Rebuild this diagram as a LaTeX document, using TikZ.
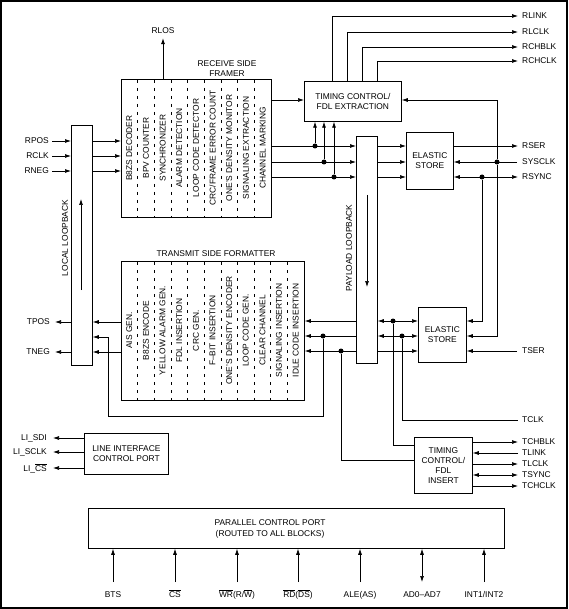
\documentclass[tikz,border=0pt]{standalone}
\usepackage{fontspec}
\setmainfont{Liberation Sans}
\usetikzlibrary{arrows.meta}
\newcommand{\myovl}[1]{\ensuremath{\overline{\mbox{#1}}}}
\begin{document}
\begin{tikzpicture}[x=1pt,y=-1pt,
  every node/.style={font=\fontsize{8.4}{9.8}\selectfont, inner sep=0pt},
  box/.style={draw, line width=0.75pt, anchor=north west, align=center},
  ln/.style={line width=0.7pt},
  ar/.style={ln,-{Latex[length=6pt,width=4pt]}},
  ar2/.style={ln,{Latex[length=6pt,width=4pt]}-{Latex[length=6pt,width=4pt]}},
  dot/.style={circle, fill, minimum size=5pt, inner sep=0pt},
  lbl/.style={anchor=west},
  lbr/.style={anchor=east},
  col/.style={rotate=90},
  dsh/.style={line width=0.5pt, dash pattern=on 3pt off 5pt},
]
\useasboundingbox (0,0) rectangle (568,609);
\draw[line width=1.4pt] (1,1) rectangle (567,608);

% ---------- boxes ----------
\node[box, minimum width=150pt, minimum height=138pt] (fr) at (121,79) {};
\node[box, minimum width=97pt, minimum height=40pt] (tce) at (304,81) {};
\node at (tce.center) [align=center] {TIMING CONTROL/\\FDL EXTRACTION};
\node[box, minimum width=47pt, minimum height=57pt] (es1) at (406,132) {};
\node at (es1.center) [align=center] {ELASTIC\\STORE};
\node[box, minimum width=21pt, minimum height=227pt] (pl) at (356,136) {};
\node[box, minimum width=21pt, minimum height=240pt] (ll) at (71,125) {};
\node[box, minimum width=183pt, minimum height=139pt] (tf) at (121,261) {};
\node[box, minimum width=48pt, minimum height=55pt] (es2) at (418,307) {};
\node at (es2.center) [align=center] {ELASTIC\\STORE};
\node[box, minimum width=58pt, minimum height=56pt] (tci) at (414,437) {};
\node at (tci.center) [align=center, font=\fontsize{8.4}{10}\selectfont] {TIMING\\CONTROL/\\FDL\\INSERT};
\node[box, minimum width=84pt, minimum height=41pt] (lic) at (84,433) {};
\node at (lic.center) [align=center] {LINE INTERFACE\\CONTROL PORT};
\node[box, minimum width=416pt, minimum height=40pt] (pcp) at (88,508) {};
\node (pcpt) at (270,529) [align=center, font=\fontsize{8.4}{10.5}\selectfont] {PARALLEL CONTROL PORT\\(ROUTED TO ALL BLOCKS)};

% ---------- titles ----------
\node (rsf) at (227,68.5) [align=center] {RECEIVE SIDE\\FRAMER};
\node (tsf) at (216,254) {TRANSMIT SIDE FORMATTER};
\node[col] (llt) at (65,238) {LOCAL LOOPBACK};
\node[col] (plt) at (349,248) {PAYLOAD LOOPBACK};
\draw[ar] (81,290) -- (81,199);
\draw[ar] (367,195) -- (367,287);

% ---------- framer columns ----------
\foreach \k in {1,...,8} \draw[dsh] ({121+16.667*\k},80) -- ({121+16.667*\k},217);
\foreach \t [count=\i from 0] in {B8ZS DECODER, BPV COUNTER, SYNCHRONIZER, ALARM DETECTION, LOOP CODE DETECTOR, CRC/FRAME ERROR COUNT, ONE'S DENSITY MONITOR, SIGNALING EXTRACTION, CHANNEL MARKING}
  \node[col] (fc\i) at ({121+16.667*(\i+0.5)},148) {\t};

% ---------- transmit columns ----------
\foreach \k in {1,...,10} \draw[dsh] ({121+16.636*\k},262) -- ({121+16.636*\k},400);
\foreach \t [count=\i from 0] in {AIS GEN., B8ZS ENCODE, YELLOW ALARM GEN., FDL INSERTION, CRC GEN., F--BIT INSERTION, ONE'S DENSITY ENCODER, LOOP CODE GEN., CLEAR CHANNEL, SIGNALING INSERTION, IDLE CODE INSERTION}
  \node[col] (tc\i) at ({121+16.636*(\i+0.5)},330.5) {\t};

% ---------- labels ----------
\node[lbr] (rpos) at (49,141) {RPOS};
\node[lbr] (rclk) at (49,156) {RCLK};
\node[lbr] (rneg) at (49,171) {RNEG};
\node[lbr] (tpos) at (50,322) {TPOS};
\node[lbr] (tneg) at (50,352) {TNEG};
\node (rlos) at (163,31) {RLOS};
\node[lbl] (rlink) at (522,16) {RLINK};
\node[lbl] (rlclk) at (522,32) {RLCLK};
\node[lbl] (rchblk) at (522,47) {RCHBLK};
\node[lbl] (rchclk) at (522,61) {RCHCLK};
\node[lbl] (rser) at (522,146) {RSER};
\node[lbl] (sysclk) at (522,162) {SYSCLK};
\node[lbl] (rsync) at (522,177) {RSYNC};
\node[lbl] (tser) at (522,351) {TSER};
\node[lbl] (tclk) at (522,420) {TCLK};
\node[lbl] (tchblk) at (522,442) {TCHBLK};
\node[lbl] (tlink) at (522,453) {TLINK};
\node[lbl] (tlclk) at (522,464) {TLCLK};
\node[lbl] (tsync) at (522,475) {TSYNC};
\node[lbl] (tchclk) at (522,486) {TCHCLK};
\node[lbr] (lisdi) at (47,438) {LI\_SDI};
\node[lbr] (lisclk) at (47,452) {LI\_SCLK};
\node[lbr] (lics) at (47,468) {LI\_\myovl{CS}};

\foreach \n/\x/\t in {bts/113/{BTS}, cs/175/{\myovl{CS}}, wr/237/{\myovl{WR}(R/\myovl{W})}, rd/298/{\myovl{RD}(\myovl{DS})}, ale/360/{ALE(AS)}, ad/422/{AD0--AD7}, int/484/{INT1/INT2}}
  {\node[anchor=base] (\n) at (\x,597) {\t};
   \coordinate (\n s) at (\x,582);}

% ---------- receive path ----------
\draw[ar, shorten <=3pt] (rpos.east) -- (rpos.east -| ll.west);
\draw[ar, shorten <=3pt] (rclk.east) -- (rclk.east -| ll.west);
\draw[ar, shorten <=3pt] (rneg.east) -- (rneg.east -| ll.west);
\draw[ar] (ll.east |- 0,141) -- (fr.west |- 0,141);
\draw[ar] (ll.east |- 0,156) -- (fr.west |- 0,156);
\draw[ar] (ll.east |- 0,171) -- (fr.west |- 0,171);
\draw[ar, shorten >=4pt] (fr.north -| 163,0) -- (rlos.south);
\draw[ar] (fr.east |- 0,100) -- (tce.west |- 0,100);

\draw[ar, shorten >=4pt] (tce.north -| 332,0) |- (rlink.west);
\draw[ar, shorten >=4pt] (tce.north -| 347,0) |- (rlclk.west);
\draw[ar, shorten >=4pt] (tce.north -| 362,0) |- (rchblk.west);
\draw[ar, shorten >=4pt] (tce.north -| 377,0) |- (rchclk.west);

\draw[ar] (fr.east |- 0,146) -- (pl.west |- 0,146);
\draw[ar] (fr.east |- 0,162) -- (pl.west |- 0,162);
\draw[ar] (fr.east |- 0,177) -- (pl.west |- 0,177);
\node[dot] (j1) at (315,146) {};
\node[dot] (j2) at (324,162) {};
\node[dot] (j3) at (334,177) {};
\draw[ar] (j1) -- (tce.south -| j1);
\draw[ar] (j2) -- (tce.south -| j2);
\draw[ar] (j3) -- (tce.south -| j3);

\draw[ar] (pl.east |- 0,146) -- (es1.west |- 0,146);
\draw[ar] (pl.east |- 0,162) -- (es1.west |- 0,162);
\draw[ar] (pl.east |- 0,177) -- (es1.west |- 0,177);

\draw[ar, shorten >=4pt] (es1.east |- 0,146) -- (rser.west);
\draw[ar, shorten <=5pt] (sysclk.west) -- (es1.east |- 0,162);
\draw[ar2, shorten >=4pt] (es1.east |- 0,177) -- (rsync.west);
\node[dot] (jsys) at (497,162) {};
\node[dot] (jrs) at (482,177) {};
\draw[ar] (jsys) |- (tce.east |- 0,100);
\draw[ar] (jsys) |- (es2.east |- 0,336);
\draw[ar] (jrs) |- (es2.east |- 0,321);
\draw[ar, shorten <=5pt] (tser.west) -- (es2.east |- 0,351);

% ---------- transmit path ----------
\draw[ar2] (pl.east |- 0,321) -- (es2.west |- 0,321);
\draw[ar2] (pl.east |- 0,336) -- (es2.west |- 0,336);
\draw[ar] (pl.east |- 0,351) -- (es2.west |- 0,351);
\node[dot] (jt1) at (393,321) {};
\node[dot] (jt2) at (402,336) {};
\draw[ln] (jt1) |- (tci.west |- 0,445);
\draw[ln, shorten >=4pt] (jt2) |- (tclk.west);

\draw[ar] (pl.west |- 0,321) -- (tf.east |- 0,321);
\draw[ar] (pl.west |- 0,336) -- (tf.east |- 0,336);
\draw[ar] (pl.west |- 0,351) -- (tf.east |- 0,351);
\node[dot] (jt3) at (323,336) {};
\node[dot] (jt4) at (341,351) {};
\draw[ar] (jt3) |- (108,416) |- (ll.east |- 0,337);
\draw[ln] (jt4) |- (tci.west |- 0,460);

\draw[ar] (tf.west |- 0,322) -- (ll.east |- 0,322);
\draw[ar] (tf.west |- 0,352) -- (ll.east |- 0,352);
\draw[ar, shorten >=5pt] (ll.west |- 0,322) -- (tpos.east);
\draw[ar, shorten >=5pt] (ll.west |- 0,352) -- (tneg.east);

\draw[ar, shorten >=4pt] (tci.east |- 0,442) -- (tchblk.west);
\draw[ar, shorten <=4pt] (tlink.west) -- (tci.east |- 0,453);
\draw[ar, shorten >=4pt] (tci.east |- 0,464) -- (tlclk.west);
\draw[ar2, shorten >=4pt] (tci.east |- 0,475) -- (tsync.west);
\draw[ar, shorten >=4pt] (tci.east |- 0,486) -- (tchclk.west);

% ---------- control ports ----------
\draw[ar, shorten >=6pt] (lic.west |- 0,438) -- (lisdi.east);
\draw[ar, shorten >=6pt] (lic.west |- 0,452) -- (lisclk.east);
\draw[ar, shorten >=6pt] (lic.west |- 0,468) -- (lics.east);

\foreach \n in {bts, cs, wr, rd, ale, int}
  \draw[ar] (\n s) -- (\n s |- pcp.south);
\draw[ar2] (ads) -- (ads |- pcp.south);
\end{tikzpicture}
\end{document}
